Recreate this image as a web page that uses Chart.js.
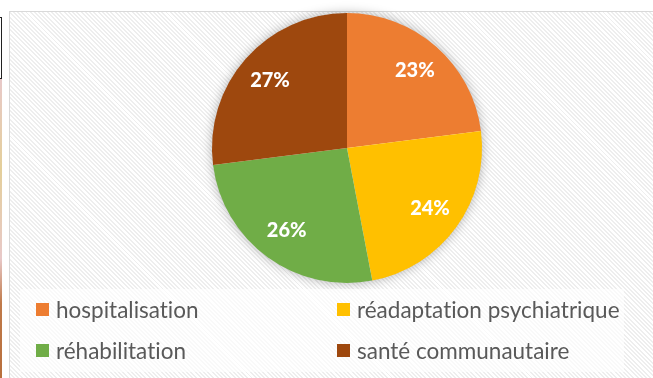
<!DOCTYPE html>
<html lang="fr">
<head>
<meta charset="utf-8">
<title>Répartition des services</title>
<script src="https://cdn.jsdelivr.net/npm/chart.js@4/dist/chart.umd.min.js"></script>
<style>
  html, body { margin: 0; padding: 0; width: 653px; height: 378px; overflow: hidden; background: #fff; }
  .frame {
    position: absolute; left: 9px; top: 11px; width: 700px; height: 420px;
    border: 1px solid #d9d9d9;
    background: repeating-linear-gradient(45deg, #ffffff 0px, #ffffff 1.6px, #eeeeee 1.6px, #eeeeee 3px);
  }
  .edge { position: absolute; left: 0; top: 17px; width: 1px; height: 60px; border: 1px solid #222; border-left: none; }
  .edge2 { position: absolute; left: 0; top: 79px; width: 2px; height: 299px;
    background: linear-gradient(#e8c9c9 0%, #e4cf9a 30%, #e8c9c9 60%, #c07a4a 75%, #b86f3c 100%); }
  #pie { position: absolute; left: 0; top: 0; }
  .legend {
    position: absolute; left: 20px; top: 289px; width: 604px; height: 83px;
    background: rgba(255,255,255,0.65);
    display: grid; grid-template-columns: 301px 303px; grid-auto-rows: 41px;
    box-sizing: border-box;
    font-family: Lato, sans-serif; font-size: 22.5px; color: #595959;
    font-variant-ligatures: none;
  }
  .legend div { display: flex; align-items: center; padding-left: 16px; }
  .legend span.sw { display: inline-block; width: 13px; height: 13px; margin-right: 7px; }
</style>
</head>
<body>
<div class="edge"></div>
<div class="edge2"></div>
<div class="frame"></div>
<canvas id="pie" width="653" height="378"></canvas>
<div class="legend" id="legend"></div>

<script>
const categories = ['hospitalisation', 'réadaptation psychiatrique', 'réhabilitation', 'santé communautaire'];
const shares = [23, 24, 26, 27];
const sliceColors = ['#ED7D31', '#FFC000', '#70AD47', '#9E480E'];

// soft shadow behind the whole disc, drawn once so slices don't shade each other
const discShadow = {
  id: 'discShadow',
  beforeDatasetsDraw(chart) {
    const arc = chart.getDatasetMeta(0).data[0];
    if (!arc) return;
    const c = chart.ctx;
    c.save();
    c.shadowColor = 'rgba(0,0,0,0.35)';
    c.shadowBlur = 12;
    c.fillStyle = '#ffffff';
    c.beginPath();
    c.arc(arc.x, arc.y, arc.outerRadius - 1, 0, Math.PI * 2);
    c.fill();
    c.restore();
  }
};

// percentage labels inside each slice
const sliceLabels = {
  id: 'sliceLabels',
  afterDatasetsDraw(chart) {
    const c = chart.ctx;
    const values = chart.data.datasets[0].data;
    c.save();
    c.font = '900 20px Lato, sans-serif';
    c.fillStyle = '#ffffff';
    c.textAlign = 'center';
    c.textBaseline = 'middle';
    chart.getDatasetMeta(0).data.forEach((arc, i) => {
      const mid = (arc.startAngle + arc.endAngle) / 2;
      const r = arc.outerRadius * 0.76;
      c.fillText(values[i] + '%', arc.x + Math.cos(mid) * r, arc.y + Math.sin(mid) * r);
    });
    c.restore();
  }
};

const pieChart = new Chart(document.getElementById('pie'), {
  type: 'pie',
  data: {
    labels: categories,
    datasets: [{
      data: shares,
      backgroundColor: sliceColors,
      borderWidth: 0
    }]
  },
  options: {
    responsive: false,
    animation: false,
    layout: { padding: { left: 212, right: 171, top: 13, bottom: 95 } },
    plugins: {
      legend: { display: false },
      tooltip: { enabled: false }
    }
  },
  plugins: [discShadow, sliceLabels]
});

// two-column legend built from the chart's own labels and colours
const legendBox = document.getElementById('legend');
categories.forEach((name, i) => {
  const item = document.createElement('div');
  const sw = document.createElement('span');
  sw.className = 'sw';
  sw.style.background = sliceColors[i];
  item.appendChild(sw);
  item.appendChild(document.createTextNode(name));
  legendBox.appendChild(item);
});
</script>
</body>
</html>
